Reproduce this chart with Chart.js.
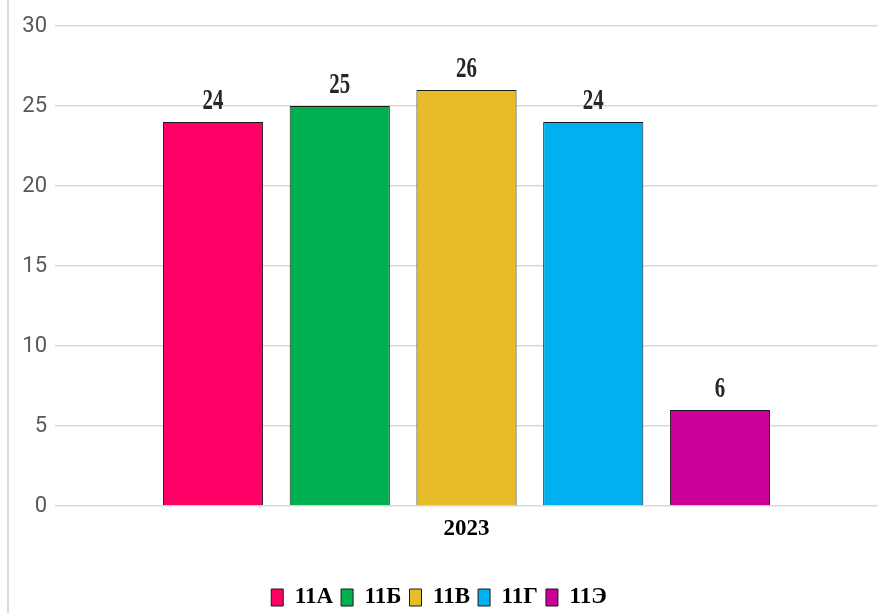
<!DOCTYPE html>
<html>
<head>
<meta charset="utf-8">
<script src="https://cdn.jsdelivr.net/npm/chart.js@4/dist/chart.umd.min.js"></script>
<style>
  html, body { margin: 0; padding: 0; background: #fff; }
  #wrap { position: relative; width: 881px; height: 613px; }
  #frame { position: absolute; left: 7px; top: 0; width: 2px; height: 613px; background: #dcdcdc; }
</style>
</head>
<body>
<div id="wrap">
  <div id="frame"></div>
  <canvas id="chart" width="881" height="613"></canvas>
</div>
<script>
const categories = ['2023'];
const classNames = ['11А', '11Б', '11В', '11Г', '11Э'];
const classValues = [24, 25, 26, 24, 6];
const classColors = ['#ff0066', '#00b050', '#e6bc29', '#00b0f0', '#cc0099'];
const yTicks = [0, 5, 10, 15, 20, 25, 30];

const boldFont = "'Liberation Serif', 'DejaVu Serif', serif";
const tickFont = "Roboto, 'Open Sans', sans-serif";

// подписи значений над столбцами (узкий жирный шрифт)
const valueLabels = {
    id: 'valueLabels',
    afterDatasetsDraw(chart) {
        const ctx = chart.ctx;
        chart.data.datasets.forEach((ds, i) => {
            const meta = chart.getDatasetMeta(i);
            meta.data.forEach((bar, j) => {
                ctx.save();
                ctx.translate(bar.x, bar.y - 13);
                ctx.scale(0.72, 1);
                ctx.font = "bold 29px " + boldFont;
                ctx.fillStyle = '#262626';
                ctx.textAlign = 'center';
                ctx.textBaseline = 'alphabetic';
                ctx.fillText(ds.data[j], 0, 0);
                ctx.restore();
            });
        });
    }
};

const datasets = classNames.map((name, i) => ({
    label: name,
    data: [classValues[i]],
    backgroundColor: classColors[i],
    borderColor: '#1a1a1a',
    borderWidth: 1,
    categoryPercentage: 0.77,
    barPercentage: 0.79
}));

new Chart(document.getElementById('chart'), {
    type: 'bar',
    data: { labels: categories, datasets: datasets },
    plugins: [valueLabels],
    options: {
        responsive: false,
        animation: false,
        layout: { padding: { top: 26, right: 3, left: 0, bottom: -6 } },
        plugins: {
            tooltip: { enabled: false },
            legend: {
                position: 'bottom',
                labels: {
                    boxWidth: 12,
                    boxHeight: 17,
                    padding: 8,
                    color: '#000',
                    font: { family: boldFont, size: 23, weight: 'bold' }
                }
            }
        },
        scales: {
            x: {
                grid: { display: false },
                border: { display: false },
                ticks: { color: '#000', padding: 1, font: { family: boldFont, size: 23, weight: 'bold' } },
                afterFit: s => { s.height = 72; }
            },
            y: {
                min: 0,
                max: 30,
                afterBuildTicks: s => { s.ticks = yTicks.map(v => ({ value: v })); },
                grid: { color: '#d9d9d9', lineWidth: 1.5, drawTicks: false },
                border: { display: false },
                ticks: { color: '#595959', padding: 8, font: { family: tickFont, size: 22 } },
                afterFit: s => { s.width = 55; }
            }
        }
    }
});
</script>
</body>
</html>
